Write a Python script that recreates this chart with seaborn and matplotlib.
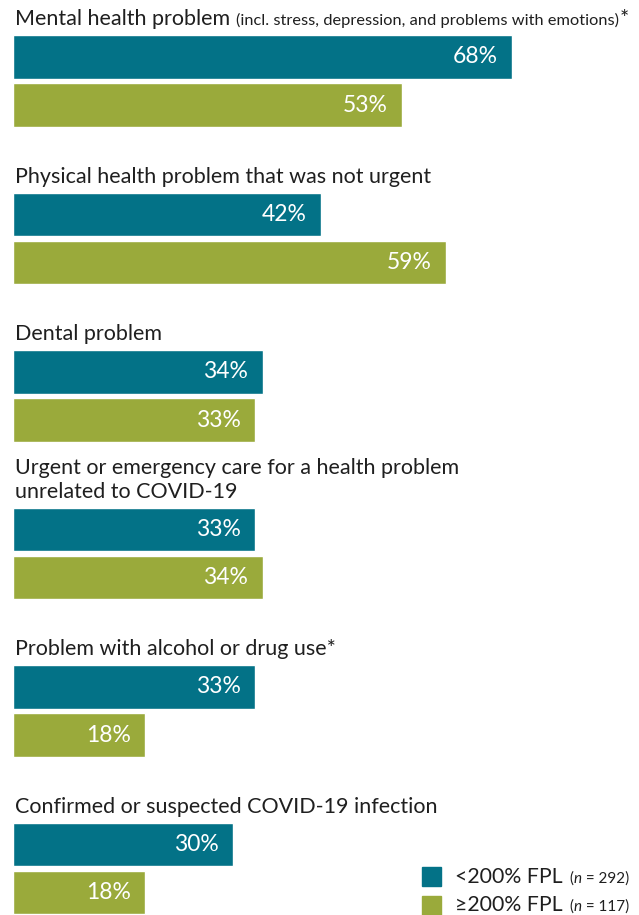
import matplotlib
matplotlib.use("Agg")
import matplotlib.pyplot as plt
from matplotlib.patches import Rectangle
from matplotlib.transforms import blended_transform_factory, offset_copy
import pandas as pd
import seaborn as sns

# ---- data -------------------------------------------------------------
categories = [
    "Mental health problem",
    "Physical health problem that was not urgent",
    "Dental problem",
    "Urgent or emergency care for a health problem\nunrelated to COVID-19",
    "Problem with alcohol or drug use*",
    "Confirmed or suspected COVID-19 infection",
]
category_notes = [
    "(incl. stress, depression, and problems with emotions)",
    "", "", "", "", "",
]
category_marks = ["*", "", "", "", "", ""]
groups = ["<200% FPL", "\u2265200% FPL"]
group_n = ["292", "117"]
below_200 = [68, 42, 34, 33, 33, 30]
above_200 = [53, 59, 33, 34, 18, 18]

colors = ["#037287", "#9aaa3b"]
TEXT = "#1f1f1f"
FAMILY = ["Lato", "DejaVu Sans"]

df = pd.DataFrame({
    "category": categories * 2,
    "group": [groups[0]] * len(categories) + [groups[1]] * len(categories),
    "value": below_200 + above_200,
})

# ---- figure -----------------------------------------------------------
sns.set_theme(style="white")
plt.rcParams["font.family"] = FAMILY

DPI = 100
W, H = 639, 915
fig = plt.figure(figsize=(W / DPI, H / DPI), dpi=DPI)
ax = fig.add_axes([0, 0, 1, 1])

width = 0.61
sns.barplot(
    data=df, x="value", y="category", hue="group", order=categories,
    hue_order=groups, palette=colors, orient="h", width=width, gap=0.085,
    saturation=1, legend=False, ax=ax,
)

px_per_unit_x = 7.34
left_px = 13
ax.set_xlim(-left_px / px_per_unit_x, (W - left_px) / px_per_unit_x)
spacing = 157.5
first_center = 81
ax.set_ylim((H - first_center) / spacing, -first_center / spacing)
ax.axis("off")

# value labels inside the bar ends
for container, vals in zip(ax.containers, [below_200, above_200]):
    for bar, v in zip(container.patches, vals):
        yc = bar.get_y() + bar.get_height() / 2
        ax.annotate(f"{v}%", xy=(v, yc), xytext=(-10.5, 0),
                    textcoords="offset points", ha="right", va="center",
                    color="white", fontsize=16.5, family=FAMILY)

# category titles above each pair of bars
title_tr = blended_transform_factory(fig.transFigure, ax.transData)
fig.canvas.draw()
renderer = fig.canvas.get_renderer()
for i, (cat, note, mark) in enumerate(zip(categories, category_notes, category_marks)):
    ytop = i - width / 2
    tr = offset_copy(title_tr, fig=fig, x=0, y=5.5, units="points")
    t = ax.text(15 / W, ytop, cat, transform=tr, ha="left", va="baseline",
                fontsize=15.5, color=TEXT, linespacing=1.22, family=FAMILY)
    if note:
        x_end = t.get_window_extent(renderer).x1 + 6
        tn = ax.text(x_end / W, ytop, note, transform=tr, ha="left",
                     va="baseline", fontsize=11.8, color=TEXT, family=FAMILY)
        if mark:
            x_end = tn.get_window_extent(renderer).x1 + 1
            ax.text(x_end / W, ytop, mark, transform=tr, ha="left",
                    va="baseline", fontsize=15.5, color=TEXT, family=FAMILY)

# legend: colour squares with group labels and sample sizes
legend_rows = [(867, 883), (896, 911)]
for k, (sq_top, base) in enumerate(legend_rows):
    fig.patches.append(Rectangle((422 / W, 1 - (sq_top + 19) / H), 19 / W, 19 / H,
                                 transform=fig.transFigure, color=colors[k]))
    ybase = 1 - base / H
    t = fig.text(455 / W, ybase, groups[k], ha="left", va="baseline",
                 fontsize=15.3, color=TEXT, family=FAMILY)
    x = t.get_window_extent(renderer).x1 + 7
    t1 = fig.text(x / W, ybase, "(", ha="left", va="baseline", fontsize=11,
                  color=TEXT, family=FAMILY)
    x = t1.get_window_extent(renderer).x1
    t2 = fig.text(x / W, ybase, "n", ha="left", va="baseline", fontsize=11,
                  style="italic", color=TEXT, family=FAMILY)
    x = t2.get_window_extent(renderer).x1
    fig.text(x / W, ybase, f" = {group_n[k]})", ha="left", va="baseline",
             fontsize=11, color=TEXT, family=FAMILY)

fig.savefig("out.png", dpi=DPI, facecolor="white")
